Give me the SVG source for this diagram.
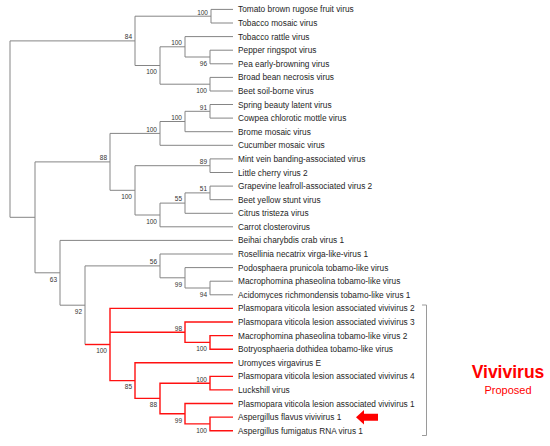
<svg xmlns="http://www.w3.org/2000/svg" width="550" height="446" viewBox="0 0 550 446">
<style>
.g{fill:none;stroke:#858585;stroke-width:1}
.r{fill:none;stroke:#ff1010;stroke-width:1.4}
.lf{font-family:"Liberation Sans",Arial,sans-serif;font-size:8.3px;fill:#1e1e1e}
.bs{font-family:"Liberation Sans",Arial,sans-serif;font-size:6.5px;fill:#333;text-anchor:end}
</style>
<rect width="550" height="446" fill="#fff"/>
<g id="connectors">
<path class="g" d="M233 9.4H211V23H233"/>
<path class="g" d="M233 50.2H210V63.8H233"/>
<path class="g" d="M233 36.6H185V57H210"/>
<path class="g" d="M233 77.4H210V91H233"/>
<path class="g" d="M185 46.8H160V84.2H210"/>
<path class="g" d="M211 16.2H135V65.5H160"/>
<path class="g" d="M233 104.5H210V118.1H233"/>
<path class="g" d="M210 111.3H185V131.7H233"/>
<path class="g" d="M185 121.5H160V145.3H233"/>
<path class="g" d="M233 158.9H210V172.5H233"/>
<path class="g" d="M233 186.1H210V199.7H233"/>
<path class="g" d="M210 192.9H185V213.3H233"/>
<path class="g" d="M185 203.1H160V226.8H233"/>
<path class="g" d="M210 165.7H135V215H160"/>
<path class="g" d="M160 133.4H110V190.3H135"/>
<path class="g" d="M233 281.2H210V294.8H233"/>
<path class="g" d="M233 267.6H185V288H210"/>
<path class="g" d="M233 254H160V277.8H185"/>
<path class="g" d="M160 265.9H85V344.5"/>
<path class="g" d="M233 240.4H60V305.2H85"/>
<path class="g" d="M110 161.9H35V272.8H60"/>
<path class="g" d="M135 40.9H10V217.3H35"/>
<path class="r" d="M85 344.5H110"/>
<path class="r" d="M233 308.4H110V380.6H135"/>
<path class="r" d="M110 332.2H185"/>
<path class="r" d="M233 322H185V342.4H210"/>
<path class="r" d="M233 335.6H210V349.2H233"/>
<path class="r" d="M233 362.8H135V398.4H160"/>
<path class="r" d="M210 383.2H160V413.7H185"/>
<path class="r" d="M233 376.4H210V389.9H233"/>
<path class="r" d="M233 403.5H185V423.9H210"/>
<path class="r" d="M233 417.1H210V430.7H233"/>
</g>
<g id="leaves">
<g id="leaf1"><text class="lf" x="238" y="12.4">Tomato brown rugose fruit virus</text></g>
<g id="leaf2"><text class="lf" x="238" y="26">Tobacco mosaic virus</text></g>
<g id="leaf3"><text class="lf" x="238" y="39.6">Tobacco rattle virus</text></g>
<g id="leaf4"><text class="lf" x="238" y="53.2">Pepper ringspot virus</text></g>
<g id="leaf5"><text class="lf" x="238" y="66.8">Pea early-browning virus</text></g>
<g id="leaf6"><text class="lf" x="238" y="80.4">Broad bean necrosis virus</text></g>
<g id="leaf7"><text class="lf" x="238" y="94">Beet soil-borne virus</text></g>
<g id="leaf8"><text class="lf" x="238" y="107.5">Spring beauty latent virus</text></g>
<g id="leaf9"><text class="lf" x="238" y="121.1">Cowpea chlorotic mottle virus</text></g>
<g id="leaf10"><text class="lf" x="238" y="134.7">Brome mosaic virus</text></g>
<g id="leaf11"><text class="lf" x="238" y="148.3">Cucumber mosaic virus</text></g>
<g id="leaf12"><text class="lf" x="238" y="161.9">Mint vein banding-associated virus</text></g>
<g id="leaf13"><text class="lf" x="238" y="175.5">Little cherry virus 2</text></g>
<g id="leaf14"><text class="lf" x="238" y="189.1">Grapevine leafroll-associated virus 2</text></g>
<g id="leaf15"><text class="lf" x="238" y="202.7">Beet yellow stunt virus</text></g>
<g id="leaf16"><text class="lf" x="238" y="216.3">Citrus tristeza virus</text></g>
<g id="leaf17"><text class="lf" x="238" y="229.8">Carrot closterovirus</text></g>
<g id="leaf18"><text class="lf" x="238" y="243.4">Beihai charybdis crab virus 1</text></g>
<g id="leaf19"><text class="lf" x="238" y="257">Rosellinia necatrix virga-like-virus 1</text></g>
<g id="leaf20"><text class="lf" x="238" y="270.6">Podosphaera prunicola tobamo-like virus</text></g>
<g id="leaf21"><text class="lf" x="238" y="284.2">Macrophomina phaseolina tobamo-like virus</text></g>
<g id="leaf22"><text class="lf" x="238" y="297.8">Acidomyces richmondensis tobamo-like virus 1</text></g>
<g id="leaf23"><text class="lf" x="238" y="311.4">Plasmopara viticola lesion associated vivivirus 2</text></g>
<g id="leaf24"><text class="lf" x="238" y="325">Plasmopara viticola lesion associated vivivirus 3</text></g>
<g id="leaf25"><text class="lf" x="238" y="338.6">Macrophomina phaseolina tobamo-like virus 2</text></g>
<g id="leaf26"><text class="lf" x="238" y="352.2">Botryosphaeria dothidea tobamo-like virus</text></g>
<g id="leaf27"><text class="lf" x="238" y="365.8">Uromyces virgavirus E</text></g>
<g id="leaf28"><text class="lf" x="238" y="379.4">Plasmopara viticola lesion associated vivivirus 4</text></g>
<g id="leaf29"><text class="lf" x="238" y="392.9">Luckshill virus</text></g>
<g id="leaf30"><text class="lf" x="238" y="406.5">Plasmopara viticola lesion associated vivivirus 1</text></g>
<g id="leaf31"><text class="lf" x="238" y="420.1">Aspergillus flavus vivivirus 1</text></g>
<g id="leaf32"><text class="lf" x="238" y="433.7">Aspergillus fumigatus RNA virus 1</text></g>
</g>
<g id="internal-nodes">
<g id="n1"><text class="bs" x="208" y="14.5">100</text></g>
<g id="n2"><text class="bs" x="182" y="45.1">100</text></g>
<g id="n3"><text class="bs" x="207" y="65.8">96</text></g>
<g id="n4"><text class="bs" x="207" y="93">100</text></g>
<g id="n5"><text class="bs" x="157" y="74.3">100</text></g>
<g id="n6"><text class="bs" x="132" y="39.2">84</text></g>
<g id="n7"><text class="bs" x="207" y="109.6">91</text></g>
<g id="n8"><text class="bs" x="182" y="119.8">100</text></g>
<g id="n9"><text class="bs" x="157" y="131.7">100</text></g>
<g id="n10"><text class="bs" x="207" y="164">89</text></g>
<g id="n11"><text class="bs" x="207" y="191.2">51</text></g>
<g id="n12"><text class="bs" x="182" y="201.4">55</text></g>
<g id="n13"><text class="bs" x="157" y="223.8">100</text></g>
<g id="n14"><text class="bs" x="132" y="199.1">100</text></g>
<g id="n15"><text class="bs" x="107" y="160.2">88</text></g>
<g id="n16"><text class="bs" x="57" y="281.6">63</text></g>
<g id="n17"><text class="bs" x="157" y="264.2">56</text></g>
<g id="n18"><text class="bs" x="182" y="286.6">99</text></g>
<g id="n19"><text class="bs" x="207" y="296.8">94</text></g>
<g id="n20"><text class="bs" x="82" y="314">92</text></g>
<g id="n21"><text class="bs" x="107" y="353.3">100</text></g>
<g id="n22"><text class="bs" x="182" y="330.5">98</text></g>
<g id="n23"><text class="bs" x="207" y="351.2">100</text></g>
<g id="n24"><text class="bs" x="132" y="389.4">85</text></g>
<g id="n25"><text class="bs" x="157" y="407.2">88</text></g>
<g id="n26"><text class="bs" x="207" y="381.5">100</text></g>
<g id="n27"><text class="bs" x="182" y="422.5">99</text></g>
<g id="n28"><text class="bs" x="207" y="432.7">100</text></g>
</g>
<g id="vivivirus-annotation">
<path d="M422 305H426.5V435.5H422" fill="none" stroke="#9a9a9a" stroke-width="1"/>
<polygon points="356,417.3 364,410 364,413.8 378,413.8 378,420.8 364,420.8 364,424.6" fill="#ff0000"/>
<text x="508" y="378" text-anchor="middle" font-family="Liberation Sans, Arial, sans-serif" font-size="17.5" font-weight="bold" fill="#ff0000">Vivivirus</text>
<text x="508" y="393.5" text-anchor="middle" font-family="Liberation Sans, Arial, sans-serif" font-size="11" fill="#ff0000">Proposed</text>
</g>
</svg>
